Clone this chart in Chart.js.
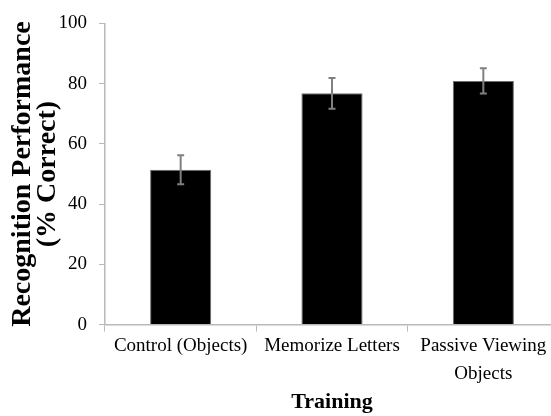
<!DOCTYPE html>
<html>
<head>
<meta charset="utf-8">
<script src="https://cdn.jsdelivr.net/npm/chart.js@4"></script>
<style>
  html, body { margin: 0; padding: 0; background: #fff; overflow: hidden; }
  #wrap { width: 560px; height: 416px; }
</style>
</head>
<body>
<div id="wrap"><canvas id="myChart" width="560" height="416"></canvas></div>
<script>
const categories = ['Control (Objects)', 'Memorize Letters', ['Passive Viewing', 'Objects']];
const performance = [51.4, 76.8, 80.9];
const errors = [4.8, 5.1, 4.2];
const yTicks = [0, 20, 40, 60, 80, 100];

const serif = "'Liberation Serif', 'Times New Roman', serif";
const axisGrey = '#b9b9b9';

// whiskers drawn from the y scale
const errorBars = {
    id: 'errorBars',
    afterDatasetsDraw(chart) {
        const ctx = chart.ctx;
        const yScale = chart.scales.y;
        const meta = chart.getDatasetMeta(0);
        ctx.save();
        ctx.strokeStyle = '#808080';
        ctx.lineWidth = 2;
        meta.data.forEach((bar, i) => {
            const top = yScale.getPixelForValue(performance[i] + errors[i]);
            const bottom = yScale.getPixelForValue(performance[i] - errors[i]);
            ctx.beginPath();
            ctx.moveTo(bar.x, top);
            ctx.lineTo(bar.x, bottom);
            ctx.moveTo(bar.x - 3.5, top);
            ctx.lineTo(bar.x + 3.5, top);
            ctx.moveTo(bar.x - 3.5, bottom);
            ctx.lineTo(bar.x + 3.5, bottom);
            ctx.stroke();
        });
        ctx.restore();
    }
};

const ctx = document.getElementById('myChart').getContext('2d');
new Chart(ctx, {
    type: 'bar',
    data: {
        labels: categories,
        datasets: [{
            data: performance,
            backgroundColor: '#000000',
            borderColor: '#6e6e6e',
            borderWidth: 1,
            categoryPercentage: 1,
            barPercentage: 0.404,
        }],
    },
    options: {
        responsive: false,
        animation: false,
        layout: { padding: { top: 11, left: 9, right: 1, bottom: 0 } },
        plugins: {
            legend: { display: false },
            tooltip: { enabled: false },
        },
        scales: {
            x: {
                border: { color: axisGrey, width: 1.5 },
                grid: { drawOnChartArea: false, color: axisGrey, tickLength: 7 },
                ticks: {
                    color: '#000',
                    font: { family: serif, size: 19, lineHeight: 1.5 },
                    maxRotation: 0,
                    padding: 0,
                },
                title: {
                    display: true,
                    text: 'Training',
                    color: '#000',
                    font: { family: serif, size: 22, weight: 'bold' },
                    padding: { top: 1, bottom: 0 },
                },
            },
            y: {
                min: 0,
                max: 100,
                afterBuildTicks(scale) {
                    scale.ticks = yTicks.map(v => ({ value: v }));
                },
                afterFit(scale) {
                    scale.width = 96;
                },
                border: { color: axisGrey, width: 1.5 },
                grid: { drawOnChartArea: false, color: axisGrey, tickLength: 6 },
                ticks: {
                    color: '#000',
                    font: { family: serif, size: 19 },
                    padding: 12,
                },
                title: {
                    display: true,
                    text: ['Recognition Performance', '(% Correct)'],
                    color: '#000',
                    font: { family: serif, size: 28, weight: 'bold', lineHeight: 0.9 },
                    padding: { top: 1, bottom: 0 },
                },
            },
        },
    },
    plugins: [errorBars],
});
</script>
</body>
</html>
